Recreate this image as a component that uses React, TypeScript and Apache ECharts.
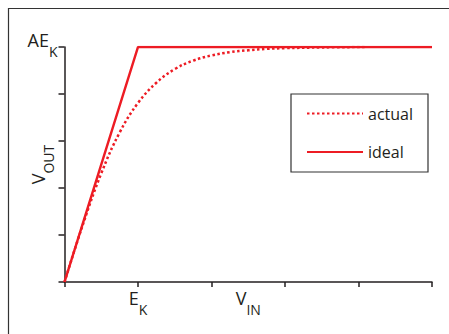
import React, { useEffect, useRef } from "react";
import * as echarts from "echarts";

const xTicks = [0, 1, 2, 3, 4, 5];
const yTicks = [0, 1, 2, 3, 4, 5];
const idealX = [0, 1, 5];
const idealY = [0, 5, 5];
const actualX = [0, 0.25, 0.5, 0.75, 1.0, 1.25, 1.5, 1.75, 2.0, 2.25, 2.5, 2.75, 3.0, 3.5, 4.1];
const actualY = [0, 1.22, 2.31, 3.18, 3.81, 4.24, 4.53, 4.71, 4.82, 4.89, 4.93, 4.96, 4.975, 4.99, 5.0];
const seriesNames = ["actual", "ideal"];

const RED = "#ed1c24";
const INK = "#231f20";
const FONT = "'Open Sans', 'Noto Sans', sans-serif";

const rich = {
  a: { fontSize: 18, lineHeight: 18, fontFamily: FONT, color: INK, padding: [0, 0, 14, 0] },
  s: { fontSize: 14, lineHeight: 14, fontFamily: FONT, color: INK, padding: [8, 0, 0, 0] },
};

export default function App() {
  const ref = useRef<HTMLDivElement>(null);
  useEffect(() => {
    if (!ref.current) return;
    const chart = echarts.init(ref.current, null, { renderer: "svg" });
    chart.setOption({
      animation: false,
      grid: { left: 64.5, right: 17, top: 47, bottom: 52, containLabel: false, outerBoundsMode: "none" },
      legend: {
        orient: "vertical",
        left: 306,
        top: 105.5,
        padding: 0,
        itemWidth: 56,
        itemHeight: 16,
        itemGap: 22.5,
        data: seriesNames,
        itemStyle: { opacity: 0 },
        textStyle: { fontSize: 16, lineHeight: 16, fontFamily: FONT, color: INK },
      },
      xAxis: {
        type: "value",
        min: xTicks[0],
        max: xTicks[xTicks.length - 1],
        interval: 1,
        name: "{a|V}{s|IN}",
        nameLocation: "middle",
        nameGap: 14,
        nameMoveOverlap: false,
        nameTextStyle: { rich, verticalAlign: "top" },
        axisLine: { lineStyle: { color: INK, width: 1.5 } },
        axisTick: { show: true, length: 5, lineStyle: { color: INK, width: 1.5 } },
        axisLabel: {
          margin: 14,
          formatter: (v: number) => (v === 1 ? "{a|E}{s|K}" : ""),
          rich,
        },
        splitLine: { show: false },
      },
      yAxis: {
        type: "value",
        min: yTicks[0],
        max: yTicks[yTicks.length - 1],
        interval: 1,
        name: "{a|V}{s|OUT}",
        nameLocation: "middle",
        nameGap: 11,
        nameMoveOverlap: false,
        nameTextStyle: { rich },
        axisLine: { lineStyle: { color: INK, width: 1.5 } },
        axisTick: { show: true, length: 6, lineStyle: { color: INK, width: 1.5 } },
        axisLabel: {
          margin: 7,
          formatter: (v: number) => (v === 5 ? "{a|AE}{s|K}" : ""),
          rich,
        },
        splitLine: { show: false },
      },
      graphic: [
        {
          type: "rect",
          shape: { x: 8.5, y: 8.5, width: 460, height: 340 },
          style: { fill: "none", stroke: "#333", lineWidth: 1.2 },
          silent: true,
        },
        {
          type: "rect",
          shape: { x: 291, y: 94, width: 137, height: 78 },
          style: { fill: "none", stroke: "#333", lineWidth: 1.2 },
          silent: true,
        },
      ],
      series: [
        {
          name: seriesNames[0],
          type: "line",
          symbol: "none",
          smooth: 0.4,
          data: actualX.map((x, i) => [x, actualY[i]]),
          lineStyle: { color: RED, width: 2.5, type: [2.5, 2.5], cap: "butt" },
          itemStyle: { color: RED },
          z: 3,
        },
        {
          name: seriesNames[1],
          type: "line",
          symbol: "none",
          data: idealX.map((x, i) => [x, idealY[i]]),
          lineStyle: { color: RED, width: 2.5, type: "solid" },
          itemStyle: { color: RED },
          z: 2,
        },
      ],
    });
    return () => chart.dispose();
  }, []);
  return (
    <div
      ref={ref}
      style={{ position: "absolute", left: 0, top: 0, width: 449, height: 334, background: "#fff" }}
    />
  );
}
